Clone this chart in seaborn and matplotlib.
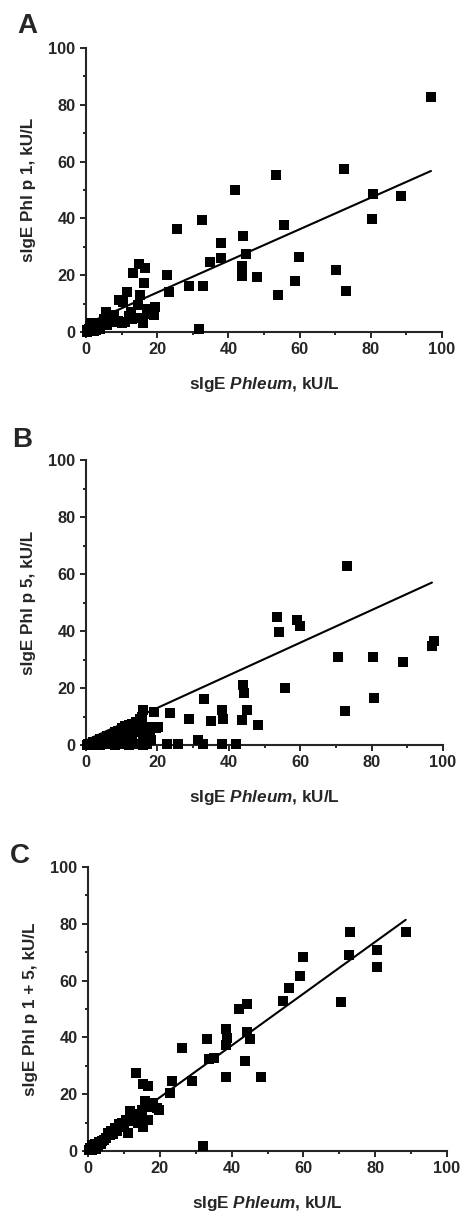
import numpy as np
import pandas as pd
import matplotlib
matplotlib.use("Agg")
import matplotlib.pyplot as plt
import seaborn as sns
from matplotlib.ticker import MultipleLocator

# ---- data ----
# Panel A: Phleum vs Phl p 1
phleum_a = [96.9, 72.4, 53.4, 41.9, 80.5, 88.6, 80.3, 32.6, 55.7, 25.7, 38.0, 44.2, 34.9, 38.0,
            44.9, 43.9, 43.9, 48.0, 59.8, 70.3, 58.8, 73.0, 53.8, 22.7, 23.3, 28.8, 33.0, 31.7,
            15.0, 13.1, 16.6, 16.4, 11.4, 15.1, 9.3, 10.5, 19.4, 19.2, 16.1, 12.7, 14.5, 17.0,
            15.5, 18.0, 12.0, 11.0, 9.0, 8.0, 5.7, 6.5, 7.5, 5.0, 4.5, 3.5, 3.0, 2.5, 2.0, 1.5,
            1.2, 1.0, 0.8, 0.5, 0.3, 0.2, 1.8, 2.8, 4.0, 6.0, 7.0, 10.0, 13.0, 3.8, 2.2]
phl_p1 = [82.7, 57.3, 55.4, 50.1, 48.6, 48.0, 39.8, 39.3, 37.7, 36.2, 31.3, 33.8, 24.7, 26.0,
          27.3, 23.1, 19.8, 19.4, 26.4, 21.9, 17.8, 14.3, 13.2, 20.2, 14.0, 16.1, 16.3, 0.9,
          23.8, 20.8, 22.6, 17.4, 14.1, 13.1, 11.1, 10.5, 8.8, 5.9, 3.0, 7.2, 9.5, 8.0,
          5.0, 6.5, 5.5, 3.5, 4.0, 6.0, 7.2, 5.5, 3.5, 4.5, 2.5, 3.0, 1.5, 2.5, 1.0, 3.0,
          0.5, 2.0, 1.0, 0.3, 0.8, 0.1, 0.2, 0.8, 1.2, 2.5, 5.0, 3.0, 4.5, 2.0, 0.3]

# Panel B: Phleum vs Phl p 5
phleum_b = [73.1, 53.5, 54.0, 59.1, 60.0, 97.4, 96.9, 70.5, 80.4, 88.8, 55.8, 80.7, 72.6, 44.1,
            44.3, 33.1, 45.0, 38.2, 38.4, 43.6, 34.9, 28.9, 48.1, 23.4, 19.0, 16.0, 19.5, 22.6,
            25.7, 31.5, 32.7, 38.1, 42.0, 17.4, 20.2, 18.3, 16.5, 16.1,
            1.0, 2.0, 3.0, 4.0, 5.0, 6.0, 7.0, 8.0, 9.0, 10.0, 11.0, 12.0, 13.0, 14.0, 15.0, 15.8,
            2.0, 4.0, 6.0, 8.0, 10.0, 12.0, 14.0, 16.0, 17.0, 0.5, 0.2,
            5.0, 7.0, 9.0, 11.0, 13.0, 15.0, 17.0, 18.0, 16.0, 14.0, 12.0, 10.0, 8.0,
            3.0, 6.5, 9.5, 12.5, 15.5]
phl_p5 = [62.9, 45.0, 39.8, 43.9, 41.8, 36.6, 34.9, 30.9, 30.9, 29.0, 20.1, 16.4, 11.9, 21.0,
          18.4, 16.1, 12.3, 12.3, 9.0, 8.8, 8.5, 9.0, 7.0, 11.2, 11.7, 12.4, 5.8, 0.2,
          0.2, 1.6, 0.2, 0.2, 0.2, 6.4, 6.2, 1.8, 4.1, 0.6,
          0.5, 1.0, 1.5, 2.0, 2.5, 3.0, 3.5, 4.5, 5.0, 6.0, 6.5, 7.0, 7.5, 8.0, 9.0, 10.0,
          0.0, 0.0, 0.2, 0.0, 0.5, 0.0, 0.3, 0.0, 0.5, 0.2, 0.0,
          1.0, 1.5, 2.0, 3.0, 4.0, 5.0, 6.0, 3.0, 2.5, 4.5, 3.5, 2.5, 1.0,
          0.5, 2.0, 3.5, 5.5, 7.0]

# Panel C: Phleum vs Phl p 1 + 5
phleum_c = [88.7, 73.1, 72.6, 80.4, 80.5, 60.0, 59.0, 56.0, 54.2, 70.5, 42.1, 44.4, 33.1, 38.4,
            38.7, 38.4, 44.3, 45.0, 43.8, 33.6, 35.2, 26.2, 38.4, 48.2, 23.5, 29.0, 22.8, 13.5,
            15.4, 16.8, 19.8, 31.9,
            0.3, 0.6, 1.0, 1.2, 1.5, 2.0, 2.2, 2.8, 3.0, 3.5, 4.0, 4.5, 5.0, 5.5, 6.0, 6.5,
            7.0, 7.5, 8.0, 8.5, 9.0, 9.5, 10.0, 10.5, 11.2, 11.7, 12.0, 12.5, 13.0, 13.5, 14.0,
            14.5, 15.0, 15.4, 15.9, 16.3, 16.8, 17.5, 18.0, 19.1]
phl_p1_p5 = [77.0, 77.1, 69.1, 70.9, 64.7, 68.2, 61.5, 57.3, 52.9, 52.3, 50.1, 51.6, 39.3, 43.0,
             39.9, 37.5, 42.0, 39.5, 31.8, 32.3, 32.8, 36.2, 26.2, 26.2, 24.7, 24.8, 20.3, 27.4,
             23.7, 22.8, 14.3, 1.9,
             0.5, 1.0, 0.3, 2.0, 1.0, 2.5, 0.8, 1.8, 3.2, 2.5, 3.5, 4.0, 4.5, 6.5, 5.5, 7.0,
             6.0, 8.0, 7.0, 9.5, 8.5, 10.0, 9.0, 11.0, 6.2, 14.0, 12.5, 10.5, 11.5, 13.0, 10.0,
             12.0, 14.5, 8.5, 17.5, 16.0, 10.9, 15.5, 17.0, 15.0]

# fitted lines (end points)
fit_x_a, fit_y_a = [0.2, 96.9], [2.9, 56.7]
fit_x_b, fit_y_b = [0.2, 96.9], [1.7, 57.0]
fit_x_c, fit_y_c = [0.2, 88.5], [0.8, 81.4]

panels = [
    ("A", phleum_a, phl_p1, fit_x_a, fit_y_a, "sIgE Phl p 1, kU/L"),
    ("B", phleum_b, phl_p5, fit_x_b, fit_y_b, "sIgE Phl p 5, kU/L"),
    ("C", phleum_c, phl_p1_p5, fit_x_c, fit_y_c, "sIgE Phl p 1 + 5, kU/L"),
]

sns.set_style("ticks")
plt.rcParams['font.family'] = ['Liberation Sans', 'DejaVu Sans']
plt.rcParams['font.weight'] = 'bold'
plt.rcParams['mathtext.fontset'] = 'custom'
plt.rcParams['mathtext.it'] = 'Liberation Sans:italic:bold'
plt.rcParams['mathtext.rm'] = 'Liberation Sans:bold'

W, H = 462, 1221
fig = plt.figure(figsize=(W / 100, H / 100), dpi=100)

# axes boxes in pixels: left, top, right, bottom
boxes = [(86, 48, 442, 332), (86, 460, 443, 745), (88, 867, 447, 1151)]
letters_pos = [(17, 33), (12, 447), (10, 863)]

for (letter, xs, ys, fx, fy, ylab), (l, t, r, b), (lx, ly) in zip(panels, boxes, letters_pos):
    ax = fig.add_axes([l / W, 1 - b / H, (r - l) / W, (b - t) / H])
    df = pd.DataFrame({"x": xs, "y": ys})
    sns.scatterplot(data=df, x="x", y="y", marker="s", color="black", s=62,
                    linewidth=0, ax=ax, clip_on=False, zorder=3)
    sns.lineplot(x=fx, y=fy, color="black", linewidth=1.5, ax=ax, zorder=4)
    ax.set_xlim(0, 100)
    ax.set_ylim(0, 100)
    ax.xaxis.set_major_locator(MultipleLocator(20))
    ax.yaxis.set_major_locator(MultipleLocator(20))
    ax.xaxis.set_minor_locator(MultipleLocator(10))
    ax.yaxis.set_minor_locator(MultipleLocator(10))
    ax.tick_params(which="major", direction="out", length=4.5, width=1.4,
                   labelsize=11.8, pad=3)
    ax.tick_params(which="minor", direction="out", length=2.5, width=1.4)
    for lab in ax.get_xticklabels() + ax.get_yticklabels():
        lab.set_fontweight("bold")
    sns.despine(ax=ax)
    for s in ["left", "bottom"]:
        ax.spines[s].set_linewidth(1.5)
    ax.set_xlabel(r"sIgE $\it{Phleum}$, kU/L", fontsize=12.3, fontweight="bold", labelpad=13)
    ax.set_ylabel(ylab, fontsize=12.3, fontweight="bold", labelpad=9)
    fig.text(lx / W, 1 - ly / H, letter, fontsize=20, fontweight="bold",
             ha="left", va="baseline")

fig.savefig("out.png", dpi=100)
